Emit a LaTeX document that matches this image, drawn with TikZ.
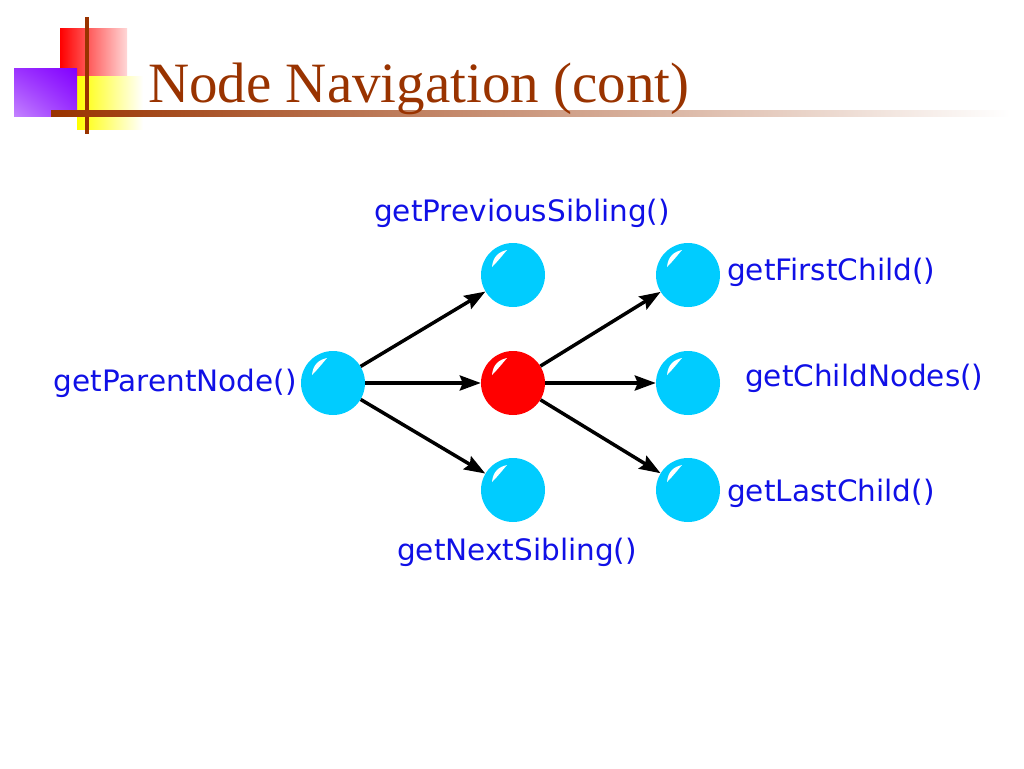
\documentclass[tikz,border=0pt]{standalone}
\usepackage{fontspec}
\setmainfont{Liberation Serif}
\newfontfamily\labelfont{DejaVu Sans}
\usetikzlibrary{arrows.meta,shadings}
\definecolor{titlebrown}{RGB}{153,51,0}
\definecolor{ballcyan}{RGB}{0,204,255}
\definecolor{ballred}{RGB}{255,0,0}
\definecolor{labelblue}{RGB}{16,16,230}
\definecolor{redfade}{RGB}{255,215,215}
\definecolor{purpledark}{RGB}{130,0,255}
\definecolor{purplemid}{RGB}{155,50,255}
\definecolor{purplelight}{RGB}{195,130,255}
\begin{document}
\begin{tikzpicture}[x=1pt, y=-1pt,
    ball/.style={circle, minimum size=64pt, inner sep=0pt, fill=#1,
      path picture={
        \fill[white] ([shift={(-21pt,8pt)}]path picture bounding box.center)
          .. controls +(1pt,10pt) and +(-9pt,-2pt) .. ([shift={(-6pt,25pt)}]path picture bounding box.center)
          .. controls +(-6pt,-7pt) and +(6pt,6pt) .. ([shift={(-21pt,8pt)}]path picture bounding box.center);
      }},
    link/.style={line width=3.5pt, -{Stealth[length=21pt,width=15pt,inset=3pt]}},
    method/.style={text=labelblue, inner sep=0pt, font=\labelfont\fontsize{29.5}{35}\selectfont}]
    \useasboundingbox (0,0) rectangle (1024,768);
    % logo
    \shade[left color=red, middle color=red, right color=redfade] (60,29) rectangle (127,76);
    \shade[left color=yellow, middle color=yellow, right color=white] (77,76) rectangle (143,129);
    \shade[upper left=purplemid, upper right=purpledark, lower left=purplelight, lower right=purplemid] (14,68) rectangle (77,116);
    \fill[titlebrown] (85,17) rectangle (89,134);
    \shade[left color=titlebrown, right color=white] (51,110) rectangle (1010,116);
    \node[anchor=base west, inner sep=0pt, text=titlebrown, font=\fontsize{57}{60}\selectfont] (title) at (148,102) {Node Navigation (cont)};
    % balls
    \node[ball=ballcyan] (parent) at (333,383) {};
    \node[ball=ballcyan] (prev) at (513,275) {};
    \node[ball=ballred] (cur) at (513,383) {};
    \node[ball=ballcyan] (next) at (513,490) {};
    \node[ball=ballcyan] (first) at (688,275) {};
    \node[ball=ballcyan] (childs) at (688,383) {};
    \node[ball=ballcyan] (last) at (688,490) {};
    % arrows
    \draw[link] (parent) -- (prev);
    \draw[link] (parent) -- (cur);
    \draw[link] (parent) -- (next);
    \draw[link] (cur) -- (first);
    \draw[link] (cur) -- (childs);
    \draw[link] (cur) -- (last);
    % labels
    \node[method] (prevlabel) at (522,213) {getPreviousSibling()};
    \node[method] (nextlabel) at (517,552) {getNextSibling()};
    \node[method, anchor=east] (parentlabel) at (297,383) {getParentNode()};
    \node[method, anchor=west] (firstlabel) at (727,272) {getFirstChild()};
    \node[method, anchor=west] (childslabel) at (745,378) {getChildNodes()};
    \node[method, anchor=west] (lastlabel) at (727,493) {getLastChild()};
\end{tikzpicture}
\end{document}
